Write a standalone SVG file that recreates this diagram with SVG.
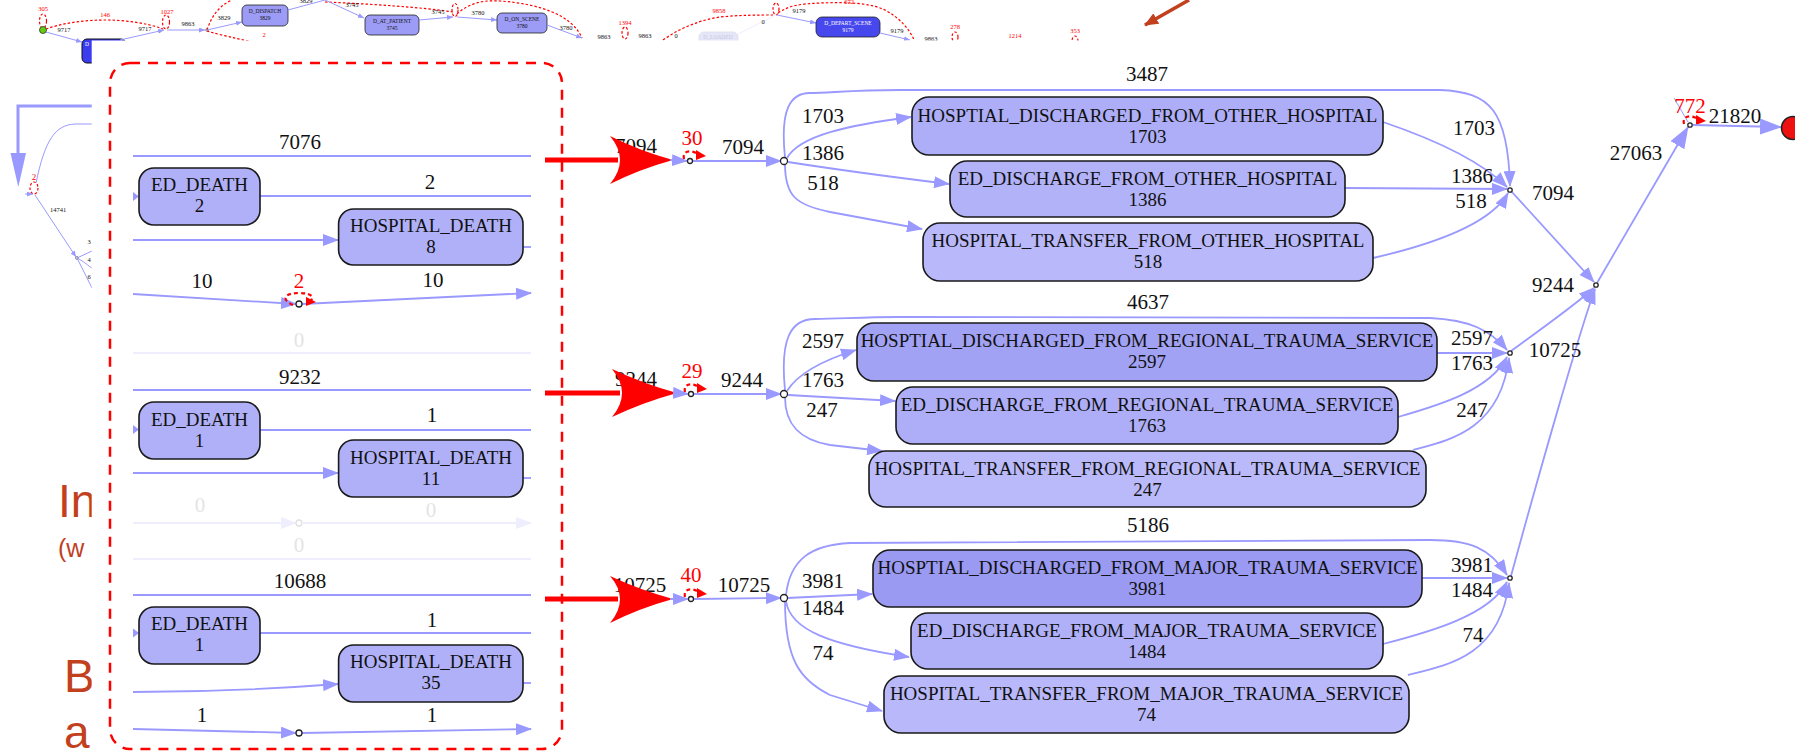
<svg xmlns="http://www.w3.org/2000/svg" width="1795" height="754" viewBox="0 0 1795 754">
<defs>
  <marker id="ah" markerUnits="userSpaceOnUse" markerWidth="16" markerHeight="12" refX="15" refY="6" orient="auto"><path d="M0,0 L16,6 L0,12 z" fill="#9999ff"/></marker>
  <marker id="ahL" markerUnits="userSpaceOnUse" markerWidth="22" markerHeight="16" refX="21" refY="8" orient="auto"><path d="M0,0 L22,8 L0,16 z" fill="#9999ff"/></marker>
  <marker id="ahS" markerUnits="userSpaceOnUse" markerWidth="6" markerHeight="5" refX="6" refY="2.5" orient="auto"><path d="M0,0 L6,2.5 L0,5 z" fill="#9999ff"/></marker>
  <marker id="ahF" markerUnits="userSpaceOnUse" markerWidth="16" markerHeight="12" refX="15" refY="6" orient="auto"><path d="M0,0 L16,6 L0,12 z" fill="#eeeeff"/></marker>
  <marker id="ahR" markerUnits="userSpaceOnUse" markerWidth="10" markerHeight="9" refX="9" refY="4.5" orient="auto"><path d="M0,0 L10,4.5 L0,9 z" fill="#ff0000"/></marker>
  <marker id="ahB" markerUnits="userSpaceOnUse" markerWidth="14" markerHeight="12" refX="13" refY="6" orient="auto"><path d="M0,0 L14,6 L0,12 z" fill="#c2401e"/></marker>
</defs>
<style>
  .e{fill:none;stroke:#9999ff;stroke-width:1.8}
  .ef{fill:none;stroke:#eeeeff;stroke-width:1.8}
  .es{fill:none;stroke:#9999ff;stroke-width:1}
  .lbl{font-family:"Liberation Serif","Times New Roman",serif;font-size:21px;fill:#111;text-anchor:middle}
  .lf{font-family:"Liberation Serif","Times New Roman",serif;font-size:21px;fill:#e4e4e4;text-anchor:middle}
  .rn{font-family:"Liberation Serif","Times New Roman",serif;font-size:21px;fill:#ff0000;text-anchor:middle}
  .bt{font-family:"Liberation Serif","Times New Roman",serif;font-size:19px;fill:#111;text-anchor:middle}
  .box{stroke:#1a1a1a;stroke-width:1.6}
  .node{fill:#fff;stroke:#222;stroke-width:1.3}
  .rl{fill:none;stroke:#ff0000;stroke-width:2.2;stroke-dasharray:4,3}
  .rlt{fill:none;stroke:#ff0000;stroke-width:1.2;stroke-dasharray:2.5,2}
  .tt{font-family:"Liberation Serif","Times New Roman",serif;font-size:6.5px;fill:#111;text-anchor:middle}
  .tr{font-family:"Liberation Serif","Times New Roman",serif;font-size:6.5px;fill:#ff0000;text-anchor:middle}
  .tb{font-family:"Liberation Serif","Times New Roman",serif;font-size:5.5px;text-anchor:middle}
  .slide{font-family:"Liberation Sans",Arial,sans-serif;fill:#c2401e}
  .bigarrow{fill:#ff0000}
</style>

<!-- background slide: overview flowchart strip and left margin -->
<g id="overview">
  <ellipse class="rlt" cx="43" cy="21" rx="3.5" ry="7"/>
  <text class="tr" x="43" y="11">305</text>
  <path class="rlt" d="M46,29 C80,17 130,17 163,29"/>
  <text class="tr" x="105" y="17">146</text>
  <circle cx="43" cy="30" r="3.5" fill="#66cc11" stroke="#333" stroke-width="0.8"/>
  <text class="tt" x="64" y="32">9717</text>
  <path class="es" d="M46,32 L82,42" marker-end="url(#ahS)"/>
  <rect x="82" y="39" width="44" height="24" rx="5" fill="#3b3bf0" stroke="#111" stroke-width="1"/>
  <text class="tb" x="87" y="46" fill="#fff">D</text>
  <path class="es" d="M120,40 L164,30" marker-end="url(#ahS)"/>
  <text class="tt" x="145" y="31">9717</text>
  <ellipse class="rlt" cx="166" cy="22" rx="3.5" ry="7"/>
  <text class="tr" x="167" y="14">1027</text>
  <path class="es" d="M167,30 L205,30" marker-end="url(#ahS)" stroke-width="1.6"/>
  <text class="tt" x="188" y="26">9863</text>
  <circle cx="207" cy="30" r="1.3" fill="#fff" stroke="#333" stroke-width="0.6"/>
  <path class="rlt" d="M207,30 C212,15 220,5 232,0"/>
  <path class="rlt" d="M207,31 C220,35 235,38 252,42"/>
  <path class="es" d="M207,30 L242,22" marker-end="url(#ahS)"/>
  <text class="tt" x="224" y="20">3829</text>
  <rect x="242" y="5" width="46" height="21" rx="5" fill="#9c9cf6" stroke="#222" stroke-width="0.8"/>
  <text class="tb" x="265" y="13" fill="#111">D_DISPATCH</text>
  <text class="tb" x="265" y="20" fill="#111">3829</text>
  <text class="tr" x="264" y="37">2</text>
  <path class="es" d="M288,10 L325,0"/>
  <text class="tt" x="306" y="3">3829</text>
  <path class="rlt" d="M325,2 C370,4 420,7 453,12"/>
  <text class="tt" x="352" y="7">3745</text>
  <path class="es" d="M325,0 L364,18" marker-end="url(#ahS)"/>
  <rect x="365" y="15" width="54" height="20" rx="5" fill="#9c9cf6" stroke="#222" stroke-width="0.8"/>
  <text class="tb" x="392" y="23" fill="#111">D_AT_PATIENT</text>
  <text class="tb" x="392" y="30" fill="#111">3745</text>
  <path class="es" d="M419,20 L453,17" marker-end="url(#ahS)"/>
  <text class="tt" x="438" y="14">3745</text>
  <ellipse class="rlt" cx="455" cy="10" rx="3" ry="6.5"/>
  <path class="rlt" d="M457,14 C470,2 485,0 500,1 C540,4 572,15 582,38"/>
  <text class="tt" x="478" y="15">3780</text>
  <path class="es" d="M457,17 L497,20" marker-end="url(#ahS)"/>
  <rect x="497" y="13" width="50" height="20" rx="5" fill="#9c9cf6" stroke="#222" stroke-width="0.8"/>
  <text class="tb" x="522" y="21" fill="#111">D_ON_SCENE</text>
  <text class="tb" x="522" y="28" fill="#111">3780</text>
  <path class="es" d="M547,25 L582,38" marker-end="url(#ahS)"/>
  <text class="tt" x="566" y="30">3780</text>
  <text class="tt" x="604" y="39">9863</text>
  <ellipse class="rlt" cx="625" cy="33" rx="3" ry="6"/>
  <text class="tr" x="625" y="25">1394</text>
  <text class="tt" x="645" y="38">9863</text>
  <text class="tt" x="676" y="38" fill="#e4e4e4">0</text>
  <rect x="699" y="32" width="39" height="14" rx="5" fill="#e6e6fb" stroke="#dddde8" stroke-width="0.8"/>
  <text class="tb" x="718" y="39" fill="#c8c8d8">D_LOADED</text>
  <path d="M738,34 L776,15" fill="none" stroke="#eeeeff" stroke-width="1"/>
  <text class="tt" x="763" y="24" fill="#e4e4e4">0</text>
  <path class="rlt" d="M663,40 C680,28 700,20 720,17 C740,15 760,15 774,15"/>
  <text class="tr" x="719" y="13">9858</text>
  <ellipse class="rlt" cx="776" cy="9" rx="3" ry="6"/>
  <path class="rlt" d="M778,13 C790,5 800,4 820,3 C850,2 870,3 885,10 C900,18 910,30 914,40"/>
  <text class="tr" x="849" y="4">672</text>
  <path class="es" d="M777,15 L816,23" marker-end="url(#ahS)"/>
  <text class="tt" x="799" y="13">9179</text>
  <rect x="816" y="17" width="64" height="20" rx="6" fill="#4747ee" stroke="#222" stroke-width="0.8"/>
  <text class="tb" x="848" y="25" fill="#fff">D_DEPART_SCENE</text>
  <text class="tb" x="848" y="32" fill="#fff">9179</text>
  <path class="es" d="M880,33 L910,40" marker-end="url(#ahS)"/>
  <text class="tt" x="897" y="33">9179</text>
  <text class="tt" x="931" y="41">9863</text>
  <text class="tr" x="955" y="29">278</text>
  <ellipse class="rlt" cx="955" cy="37" rx="3" ry="5"/>
  <text class="tr" x="1015" y="38">1214</text>
  <text class="tr" x="1075" y="33">353</text>
  <ellipse class="rlt" cx="1075" cy="41" rx="3" ry="5"/>
  <path d="M1189,0 L1145,25" fill="none" stroke="#c2401e" stroke-width="3.5" marker-end="url(#ahB)"/>

  <!-- left margin of the overview -->
  <path d="M92,106 L18,106 L18,154" fill="none" stroke="#9999ff" stroke-width="3"/>
  <polygon points="10.5,153 26,153 18.3,187" fill="#9999ff"/>
  <path class="es" d="M92,124 L75,124 C55,125 45,140 36,183"/>
  <text class="tr" x="34" y="180" style="font-size:9px">2</text>
  <ellipse class="rlt" cx="34" cy="188" rx="4" ry="6"/>
  <path class="es" d="M25,194 L33,194" marker-end="url(#ahS)"/>
  <path class="es" d="M35,195 L76,257" marker-end="url(#ahS)"/>
  <text class="tt" x="58" y="212">14741</text>
  <circle cx="77" cy="258" r="1.4" fill="#fff" stroke="#333" stroke-width="0.6"/>
  <path class="es" d="M77,258 L92,251"/>
  <path class="es" d="M77,258 C85,262 88,266 92,268"/>
  <path class="es" d="M77,258 L92,288"/>
  <text class="tt" x="89" y="244">3</text>
  <text class="tt" x="89" y="262">4</text>
  <text class="tt" x="89" y="279">6</text>

  <text class="slide" x="58" y="517" font-size="46">In</text>
  <text class="slide" x="58" y="557" font-size="25">(w</text>
  <text class="slide" x="64" y="692" font-size="46">B</text>
  <text class="slide" x="64" y="748" font-size="46">a</text>
</g>

<!-- panel holding the enlarged outcome section -->
<rect id="panel" x="91.7" y="40.5" width="1704" height="714" fill="#ffffff"/>

<!-- death outcomes inside the dashed frame -->
<g id="deaths-other">
  <path class="e" d="M133,156 L531,156" stroke-width="2.5"/>
  <text class="lbl" x="300" y="149">7076</text>
  <polygon points="133,192 139,196.5 133,201" fill="#9999ff"/>
  <path class="e" d="M260,196 L531,196"/>
  <text class="lbl" x="430" y="189">2</text>
  <path class="e" d="M133,240 L338,240" marker-end="url(#ah)"/>
  <path class="e" d="M523,247 L531,247"/>
  <text class="lbl" x="202" y="288">10</text>
  <text class="rn" x="299" y="288">2</text>
  <text class="lbl" x="433" y="287">10</text>
  <path class="e" d="M133,294 L296,304" marker-end="url(#ah)"/>
  <path class="e" d="M302,304 L531,293" marker-end="url(#ah)"/>
  <path class="rl" d="M293,305 C280,299 285,293 299,293 C311,293 316,297 309,302"/>
  <polygon points="306,297 316,302 306,306" fill="#ff0000"/>
  <circle class="node" cx="299" cy="304" r="3"/>
  <text class="lf" x="299" y="347">0</text>
  <path class="ef" d="M133,353 L531,353"/>
</g>
<g id="ed-death-other">
  <rect class="box" x="139" y="168" width="121" height="57" rx="15" fill="#b0b0f8"/>
  <text class="bt" x="199.5" y="191">ED_DEATH</text>
  <text class="bt" x="199.5" y="212">2</text>
</g>
<g id="hospital-death-other">
  <rect class="box" x="338.6" y="209" width="184.4" height="56" rx="15" fill="#b0b0f8"/>
  <text class="bt" x="431" y="232">HOSPITAL_DEATH</text>
  <text class="bt" x="431" y="253">8</text>
</g>

<g id="deaths-regional">
  <path class="e" d="M133,390 L531,390" stroke-width="2.5"/>
  <text class="lbl" x="300" y="384">9232</text>
  <polygon points="133,425 139,429.5 133,434" fill="#9999ff"/>
  <path class="e" d="M260,430 L531,430"/>
  <text class="lbl" x="432" y="422">1</text>
  <path class="e" d="M133,473 L338,473" marker-end="url(#ah)"/>
  <path class="e" d="M523,478 L531,478"/>
  <text class="lf" x="200" y="512">0</text>
  <text class="lf" x="431" y="517">0</text>
  <path class="ef" d="M133,523 L296,523" marker-end="url(#ahF)"/>
  <circle cx="299" cy="523" r="3" fill="#fff" stroke="#e0e0e0" stroke-width="1.3"/>
  <path class="ef" d="M302,523 L531,523" marker-end="url(#ahF)"/>
  <text class="lf" x="299" y="552">0</text>
  <path class="ef" d="M133,559 L531,559"/>
</g>
<g id="ed-death-regional">
  <rect class="box" x="139" y="402" width="121" height="57" rx="15" fill="#b0b0f8"/>
  <text class="bt" x="199.5" y="426">ED_DEATH</text>
  <text class="bt" x="199.5" y="447">1</text>
</g>
<g id="hospital-death-regional">
  <rect class="box" x="338.6" y="440" width="184.4" height="57" rx="15" fill="#b0b0f8"/>
  <text class="bt" x="431" y="464">HOSPITAL_DEATH</text>
  <text class="bt" x="431" y="485">11</text>
</g>

<g id="deaths-major">
  <path class="e" d="M133,595 L531,595" stroke-width="4"/>
  <text class="lbl" x="300" y="588">10688</text>
  <polygon points="133,628.5 139,633 133,637.5" fill="#9999ff"/>
  <path class="e" d="M260,633 L531,633"/>
  <text class="lbl" x="432" y="627">1</text>
  <path class="e" d="M133,692 C200,692 260,690 338,684" marker-end="url(#ah)"/>
  <path class="e" d="M523,683 L531,683"/>
  <text class="lbl" x="202" y="722">1</text>
  <text class="lbl" x="432" y="722">1</text>
  <path class="e" d="M133,729 L296,733" marker-end="url(#ah)"/>
  <path class="e" d="M302,733 L531,729" marker-end="url(#ah)"/>
  <circle class="node" cx="299" cy="733" r="3"/>
</g>
<g id="ed-death-major">
  <rect class="box" x="139" y="607" width="121" height="57" rx="15" fill="#b0b0f8"/>
  <text class="bt" x="199.5" y="630">ED_DEATH</text>
  <text class="bt" x="199.5" y="651">1</text>
</g>
<g id="hospital-death-major">
  <rect class="box" x="338.6" y="645" width="184.4" height="57" rx="15" fill="#b0b0f8"/>
  <text class="bt" x="431" y="668">HOSPITAL_DEATH</text>
  <text class="bt" x="431" y="689">35</text>
</g>

<rect id="frame" x="110" y="63" width="452" height="686" rx="20" fill="none" stroke="#ff0000" stroke-width="2.5" stroke-dasharray="10,8"/>

<!-- connectors of the discharge section -->
<g id="connectors">
  <!-- other hospital -->
  <text class="lbl" x="636" y="153">7094</text>
  <path d="M545,160 L618,160" stroke="#ff0000" stroke-width="5" fill="none"/>
  <path class="bigarrow" d="M673,160 Q640,151 610,136 Q630,160 610,184 Q640,169 673,160 Z"/>
  <path class="e" d="M670,160 L687,161" marker-end="url(#ah)" stroke-width="2.5"/>
  <text class="rn" x="692" y="145">30</text>
  <path class="rl" d="M684,159 C682,151 690,149 698,154" stroke-width="2"/>
  <polygon points="696,150 706,156 696,160" fill="#ff0000"/>
  <path class="e" d="M693,161 L781,161" marker-end="url(#ah)" stroke-width="3"/>
  <text class="lbl" x="743" y="154">7094</text>
  <path class="e" d="M787,158 C800,135 850,125 911,117" marker-end="url(#ah)"/>
  <text class="lbl" x="823" y="123">1703</text>
  <path class="e" d="M788,162 C820,167 900,178 949,184" marker-end="url(#ah)"/>
  <text class="lbl" x="823" y="160">1386</text>
  <path class="e" d="M785,164 C785,195 795,205 830,212 L922,229" marker-end="url(#ah)"/>
  <text class="lbl" x="823" y="190">518</text>
  <path class="e" d="M785,157 C780,110 790,93 810,93 C830,93 850,90 900,90 L1440,90 C1490,92 1508,110 1510,186" marker-end="url(#ah)"/>
  <text class="lbl" x="1147" y="81">3487</text>
  <path class="e" d="M1383,122 C1430,138 1480,160 1507,187" marker-end="url(#ah)"/>
  <text class="lbl" x="1474" y="135">1703</text>
  <path class="e" d="M1345,188 L1507,189" marker-end="url(#ah)"/>
  <text class="lbl" x="1472" y="183">1386</text>
  <path class="e" d="M1373,258 C1430,245 1490,225 1508,193" marker-end="url(#ah)"/>
  <text class="lbl" x="1471" y="208">518</text>

  <!-- regional trauma service -->
  <text class="lbl" x="636" y="386">9244</text>
  <path d="M545,393 L620,393" stroke="#ff0000" stroke-width="5" fill="none"/>
  <path class="bigarrow" d="M677,393 Q644,384 612,369 Q632,393 612,417 Q644,402 677,393 Z"/>
  <path class="e" d="M674,393 L688,394" marker-end="url(#ah)" stroke-width="2.5"/>
  <text class="rn" x="692" y="378">29</text>
  <path class="rl" d="M685,392 C683,384 691,382 699,387" stroke-width="2"/>
  <polygon points="697,383 707,389 697,393" fill="#ff0000"/>
  <path class="e" d="M694,394 L781,394" marker-end="url(#ah)" stroke-width="3"/>
  <text class="lbl" x="742" y="387">9244</text>
  <path class="e" d="M787,391 C800,370 830,358 856,350" marker-end="url(#ah)"/>
  <text class="lbl" x="823" y="348">2597</text>
  <path class="e" d="M788,395 L895,401" marker-end="url(#ah)"/>
  <text class="lbl" x="823" y="387">1763</text>
  <path class="e" d="M785,397 C785,425 800,440 830,445 L882,451" marker-end="url(#ah)"/>
  <text class="lbl" x="822" y="417">247</text>
  <path class="e" d="M785,390 C780,340 790,319 815,319 C840,319 860,317 900,317 L1430,318 C1470,320 1490,330 1507,350" marker-end="url(#ah)"/>
  <text class="lbl" x="1148" y="309">4637</text>
  <path class="e" d="M1437,353 L1507,353" marker-end="url(#ah)"/>
  <text class="lbl" x="1472" y="345">2597</text>
  <path class="e" d="M1398,417 C1440,405 1490,390 1507,357" marker-end="url(#ah)"/>
  <text class="lbl" x="1472" y="370">1763</text>
  <path class="e" d="M1413,450 C1450,440 1500,430 1509,358" marker-end="url(#ah)"/>
  <text class="lbl" x="1472" y="417">247</text>

  <!-- major trauma service -->
  <text class="lbl" x="640" y="592">10725</text>
  <path d="M545,599 L618,599" stroke="#ff0000" stroke-width="5" fill="none"/>
  <path class="bigarrow" d="M673,599 Q640,590 610,576 Q630,599 610,623 Q640,608 673,599 Z"/>
  <path class="e" d="M670,599 L688,599" marker-end="url(#ah)" stroke-width="2.5"/>
  <text class="rn" x="691" y="582">40</text>
  <path class="rl" d="M685,597 C683,589 691,587 699,592" stroke-width="2"/>
  <polygon points="697,588 707,594 697,598" fill="#ff0000"/>
  <path class="e" d="M694,599 L781,598" marker-end="url(#ah)" stroke-width="3"/>
  <text class="lbl" x="744" y="592">10725</text>
  <path class="e" d="M787,598 L872,594" marker-end="url(#ah)"/>
  <text class="lbl" x="823" y="588">3981</text>
  <path class="e" d="M786,601 C790,630 830,645 909,657" marker-end="url(#ah)"/>
  <text class="lbl" x="823" y="615">1484</text>
  <path class="e" d="M785,601 C785,660 800,680 830,695 L882,711" marker-end="url(#ah)"/>
  <text class="lbl" x="823" y="660">74</text>
  <path class="e" d="M786,595 C790,560 810,545 850,543 L1430,540 C1470,540 1490,548 1507,575" marker-end="url(#ah)"/>
  <text class="lbl" x="1148" y="532">5186</text>
  <path class="e" d="M1422,578 L1507,578" marker-end="url(#ah)"/>
  <text class="lbl" x="1472" y="572">3981</text>
  <path class="e" d="M1383,644 C1430,632 1490,615 1507,582" marker-end="url(#ah)"/>
  <text class="lbl" x="1472" y="597">1484</text>
  <path class="e" d="M1408,675 C1450,665 1500,655 1509,583" marker-end="url(#ah)"/>
  <text class="lbl" x="1473" y="642">74</text>

  <!-- merging towards the end state -->
  <path class="e" d="M1511,191 L1594,282" marker-end="url(#ah)" stroke-width="2.5"/>
  <text class="lbl" x="1553" y="200">7094</text>
  <path class="e" d="M1511,351 C1540,330 1575,305 1594,288" marker-end="url(#ah)" stroke-width="2.5"/>
  <text class="lbl" x="1553" y="292">9244</text>
  <path class="e" d="M1511,576 C1540,470 1580,330 1595,289" marker-end="url(#ah)" stroke-width="2.5"/>
  <text class="lbl" x="1555" y="357">10725</text>
  <path class="e" d="M1597,283 L1688,127" marker-end="url(#ahL)" stroke-width="3.5"/>
  <text class="lbl" x="1636" y="160">27063</text>
  <path class="es" d="M1674,98 L1688,122"/>
  <text class="rn" x="1690" y="113">772</text>
  <path class="rl" d="M1684,124 C1682,116 1690,114 1698,119" stroke-width="2"/>
  <polygon points="1696,115 1706,121 1696,125" fill="#ff0000"/>
  <path class="e" d="M1693,125 L1781,127" marker-end="url(#ahL)" stroke-width="4"/>
  <text class="lbl" x="1735" y="123">21820</text>

  <circle class="node" cx="784" cy="161" r="3.5"/>
  <circle class="node" cx="690" cy="161" r="2.5"/>
  <circle class="node" cx="784" cy="394" r="3.5"/>
  <circle class="node" cx="691" cy="394" r="2.5"/>
  <circle class="node" cx="784" cy="598" r="3.5"/>
  <circle class="node" cx="691" cy="599" r="2.5"/>
  <circle class="node" cx="1510" cy="190" r="2.2"/>
  <circle class="node" cx="1510" cy="353" r="2.2"/>
  <circle class="node" cx="1510" cy="578" r="2.2"/>
  <circle class="node" cx="1596" cy="285" r="2.2"/>
  <circle class="node" cx="1690" cy="125" r="2.2"/>
</g>

<!-- discharge states -->
<g id="discharged-other">
  <rect class="box" x="912" y="97" width="471" height="58" rx="17" fill="#aeaef8"/>
  <text class="bt" x="1147.5" y="122">HOSPTIAL_DISCHARGED_FROM_OTHER_HOSPITAL</text>
  <text class="bt" x="1147.5" y="143">1703</text>
</g>
<g id="ed-discharge-other">
  <rect class="box" x="950" y="161" width="395" height="56" rx="17" fill="#b2b2f9"/>
  <text class="bt" x="1147.5" y="185">ED_DISCHARGE_FROM_OTHER_HOSPITAL</text>
  <text class="bt" x="1147.5" y="206">1386</text>
</g>
<g id="transfer-other">
  <rect class="box" x="923" y="223" width="450" height="58" rx="17" fill="#b8b8fa"/>
  <text class="bt" x="1148" y="247">HOSPITAL_TRANSFER_FROM_OTHER_HOSPITAL</text>
  <text class="bt" x="1148" y="268">518</text>
</g>
<g id="discharged-regional">
  <rect class="box" x="857" y="323" width="580" height="58" rx="17" fill="#a2a2f4"/>
  <text class="bt" x="1147" y="347">HOSPTIAL_DISCHARGED_FROM_REGIONAL_TRAUMA_SERVICE</text>
  <text class="bt" x="1147" y="368">2597</text>
</g>
<g id="ed-discharge-regional">
  <rect class="box" x="896" y="387" width="502" height="57" rx="17" fill="#aeaef8"/>
  <text class="bt" x="1147" y="411">ED_DISCHARGE_FROM_REGIONAL_TRAUMA_SERVICE</text>
  <text class="bt" x="1147" y="432">1763</text>
</g>
<g id="transfer-regional">
  <rect class="box" x="869" y="451" width="557" height="56" rx="17" fill="#babafb"/>
  <text class="bt" x="1147.5" y="475">HOSPITAL_TRANSFER_FROM_REGIONAL_TRAUMA_SERVICE</text>
  <text class="bt" x="1147.5" y="496">247</text>
</g>
<g id="discharged-major">
  <rect class="box" x="873" y="550" width="549" height="57" rx="17" fill="#9a9af3"/>
  <text class="bt" x="1147.5" y="574">HOSPTIAL_DISCHARGED_FROM_MAJOR_TRAUMA_SERVICE</text>
  <text class="bt" x="1147.5" y="595">3981</text>
</g>
<g id="ed-discharge-major">
  <rect class="box" x="911" y="613" width="472" height="56" rx="17" fill="#b0b0f8"/>
  <text class="bt" x="1147" y="637">ED_DISCHARGE_FROM_MAJOR_TRAUMA_SERVICE</text>
  <text class="bt" x="1147" y="658">1484</text>
</g>
<g id="transfer-major">
  <rect class="box" x="884" y="676" width="525" height="57" rx="17" fill="#b8b8fa"/>
  <text class="bt" x="1146.5" y="700">HOSPITAL_TRANSFER_FROM_MAJOR_TRAUMA_SERVICE</text>
  <text class="bt" x="1146.5" y="721">74</text>
</g>
<g id="end-state">
  <circle cx="1793" cy="128" r="11.5" fill="#ee1111" stroke="#222" stroke-width="1.5"/>
</g>
</svg>
